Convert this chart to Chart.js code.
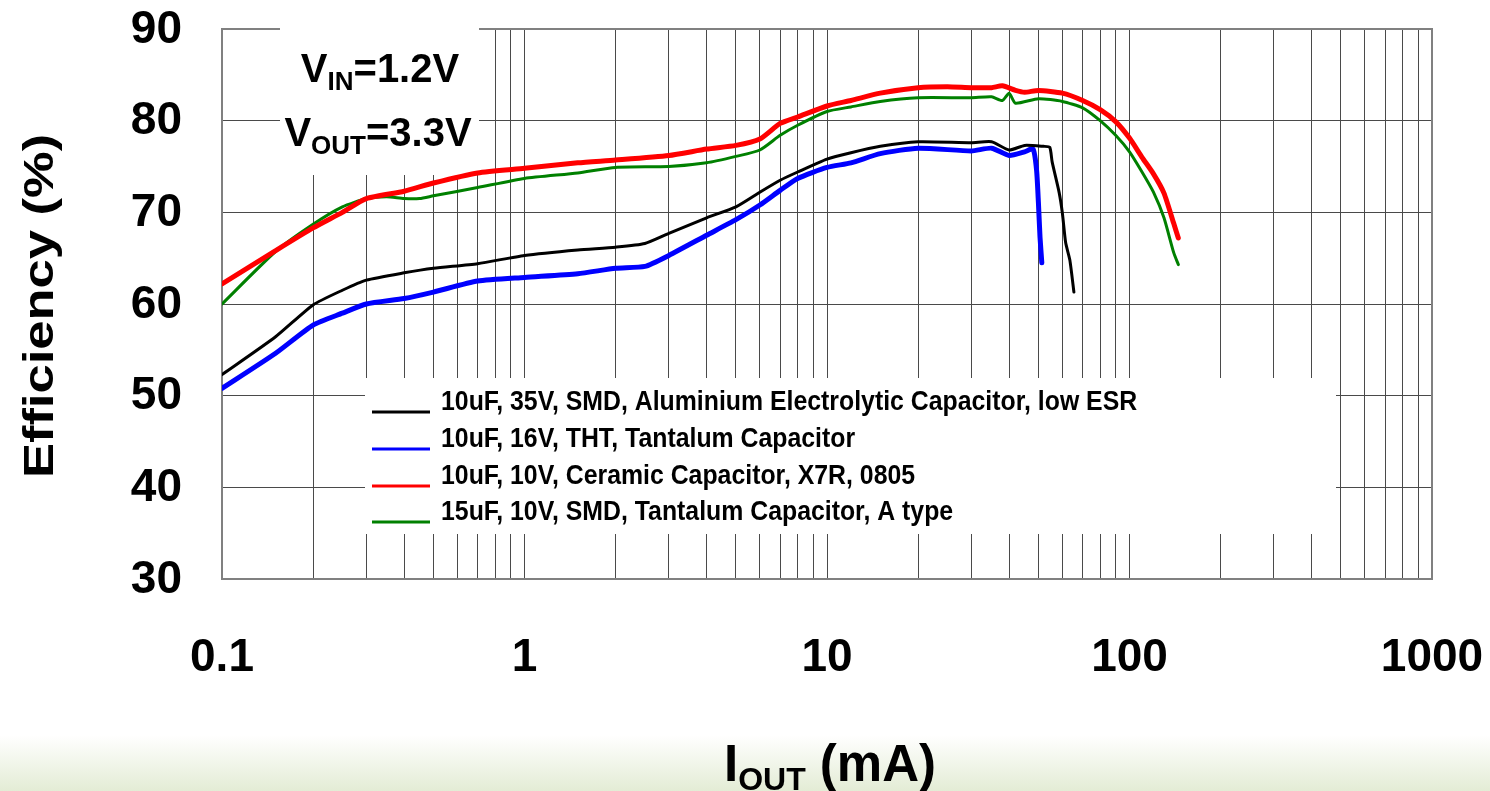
<!DOCTYPE html>
<html>
<head>
<meta charset="utf-8">
<script src="https://cdn.jsdelivr.net/npm/chart.js@4/dist/chart.umd.min.js"></script>
<style>
  html, body { margin: 0; padding: 0; }
  body {
    width: 1490px; height: 791px; overflow: hidden;
    background: linear-gradient(to bottom, #ffffff 0px, #ffffff 735px, #e3ecd5 791px);
  }
  #wrap { position: relative; width: 1490px; height: 791px; }
</style>
</head>
<body>
<div id="wrap"><canvas id="effChart" width="1490" height="791"></canvas></div>
<script>
// Оси
const xTickValues = [0.1, 1, 10, 100, 1000];
const xTickLabels = ['0.1', '1', '10', '100', '1000'];
const yTickValues = [30, 40, 50, 60, 70, 80, 90];
const yTickLabels = ['30', '40', '50', '60', '70', '80', '90'];

// Подписи серий
const seriesLabels = [
    '10uF, 35V, SMD, Aluminium Electrolytic Capacitor, low ESR',
    '10uF, 16V, THT, Tantalum Capacitor',
    '10uF, 10V, Ceramic Capacitor, X7R, 0805',
    '15uF, 10V, SMD, Tantalum Capacitor, A type'
];

// Данные (ток, мА / КПД, %)
const currentBlack = [0.1, 0.15, 0.2, 0.25, 0.3, 0.4, 0.5, 0.7, 1, 1.5, 2, 2.5, 3, 4, 5, 6, 7, 8, 10, 12, 15, 20, 30, 35, 40, 45, 52, 54.5, 55.5, 58.5, 60, 61.5, 63.5, 65.5];
const effBlack = [52.3, 56.4, 59.9, 61.5, 62.6, 63.4, 63.9, 64.4, 65.3, 65.9, 66.2, 66.6, 67.7, 69.4, 70.6, 72.2, 73.5, 74.4, 75.8, 76.5, 77.2, 77.7, 77.6, 77.7, 76.8, 77.3, 77.2, 77.1, 75.5, 72.2, 69.9, 66.7, 64.8, 61.3];

const currentBlue = [0.1, 0.15, 0.2, 0.25, 0.3, 0.4, 0.5, 0.7, 1, 1.5, 2, 2.5, 3, 4, 5, 6, 7, 8, 10, 12, 15, 20, 30, 35, 40, 45, 48, 49.3, 50, 50.6, 51.3];
const effBlue = [50.8, 54.6, 57.7, 59.0, 60.0, 60.6, 61.3, 62.5, 62.9, 63.3, 63.9, 64.1, 65.3, 67.5, 69.2, 70.8, 72.4, 73.7, 74.9, 75.4, 76.4, 77.0, 76.7, 77.0, 76.2, 76.6, 76.9, 74.6, 71.0, 67.3, 64.5];

const currentRed = [0.1, 0.15, 0.2, 0.25, 0.3, 0.4, 0.5, 0.7, 1, 1.5, 2, 3, 4, 5, 6, 7, 8, 10, 12, 15, 20, 25, 30, 35, 38, 42, 45, 50, 60, 70, 80, 90, 100, 110, 120, 130, 140, 145];
const effRed = [62.2, 65.8, 68.3, 70.0, 71.5, 72.3, 73.2, 74.3, 74.8, 75.4, 75.7, 76.2, 76.9, 77.3, 78.0, 79.7, 80.4, 81.6, 82.2, 83.0, 83.6, 83.7, 83.6, 83.6, 83.8, 83.3, 83.1, 83.3, 83.0, 82.2, 81.2, 79.9, 78.1, 76.0, 74.2, 72.1, 68.8, 67.2];

const currentGreen = [0.1, 0.15, 0.2, 0.25, 0.3, 0.35, 0.4, 0.45, 0.5, 0.7, 1, 1.5, 2, 3, 4, 5, 6, 7, 8, 10, 12, 15, 20, 30, 35, 38, 40, 42, 50, 60, 70, 80, 90, 100, 110, 120, 130, 140, 145];
const effGreen = [60.0, 65.7, 68.7, 70.6, 71.5, 71.7, 71.5, 71.5, 71.8, 72.7, 73.7, 74.3, 74.9, 75.0, 75.4, 76.1, 76.8, 78.4, 79.5, 81.0, 81.5, 82.1, 82.5, 82.5, 82.6, 82.2, 83.0, 81.9, 82.4, 82.1, 81.4, 80.0, 78.4, 76.6, 74.4, 72.2, 69.4, 65.6, 64.3];

const FONT = '"Liberation Sans", Arial, sans-serif';

function toPoints(xs, ys) {
    return xs.map((x, i) => ({ x: x, y: ys[i] }));
}

// линии сетки: 1..9 в каждой декаде
function logGrid() {
    const out = [];
    for (let e = -1; e < 3; e++) {
        for (let s = 1; s < 10; s++) out.push(+(s * Math.pow(10, e)).toPrecision(3));
    }
    out.push(1000);
    return out;
}

// текст с растяжкой по горизонтали
function drawScaled(ctx, str, x, y, font, align, sx) {
    ctx.save();
    ctx.font = font;
    ctx.textAlign = align;
    ctx.translate(x, y);
    ctx.scale(sx, 1);
    ctx.fillText(str, 0, 0);
    ctx.restore();
}

// строка вида V_IN=1.2V
function drawSubText(ctx, parts, cx, baseline, bigPx, smallPx, subDrop) {
    ctx.save();
    ctx.fillStyle = '#000';
    ctx.textBaseline = 'alphabetic';
    ctx.textAlign = 'left';
    let total = 0;
    parts.forEach(p => {
        ctx.font = 'bold ' + (p.sub ? smallPx : bigPx) + 'px ' + FONT;
        p.w = ctx.measureText(p.t).width;
        total += p.w;
    });
    let x = cx - total / 2;
    parts.forEach(p => {
        ctx.font = 'bold ' + (p.sub ? smallPx : bigPx) + 'px ' + FONT;
        ctx.fillText(p.t, x, baseline + (p.sub ? subDrop : 0));
        x += p.w;
    });
    ctx.restore();
}

const decorPlugin = {
    id: 'decor',
    beforeDatasetsDraw(chart) {
        const ctx = chart.ctx;
        const a = chart.chartArea;
        ctx.save();
        // рамка области графика
        ctx.strokeStyle = '#808080';
        ctx.lineWidth = 2;
        ctx.strokeRect(a.left, a.top, a.right - a.left, a.bottom - a.top);
        // белые подложки под надпись и легенду
        ctx.fillStyle = '#ffffff';
        ctx.fillRect(280, 26, 199, 149);
        ctx.fillRect(365, 378, 971, 156);
        ctx.restore();
    },
    afterDraw(chart) {
        const ctx = chart.ctx;
        const xs = chart.scales.x;
        const ys = chart.scales.y;
        ctx.save();
        ctx.fillStyle = '#000';

        // подписи осей
        ctx.textBaseline = 'middle';
        yTickValues.forEach((v, i) => {
            drawScaled(ctx, yTickLabels[i], 182, ys.getPixelForValue(v) + 1, 'bold 46px ' + FONT, 'right', 1);
        });
        xTickValues.forEach((v, i) => {
            drawScaled(ctx, xTickLabels[i], xs.getPixelForValue(v), 658, 'bold 46px ' + FONT, 'center', 1);
        });

        // заголовок оси Y
        ctx.save();
        ctx.translate(41, 306);
        ctx.rotate(-Math.PI / 2);
        ctx.scale(1.25, 1);
        ctx.font = 'bold 42px ' + FONT;
        ctx.textAlign = 'center';
        ctx.textBaseline = 'middle';
        ctx.fillText('Efficiency (%)', 0, 0);
        ctx.restore();

        // заголовок оси X
        drawSubText(ctx, [{ t: 'I' }, { t: 'OUT', sub: true }, { t: ' (mA)' }], 830, 781, 51, 32, 9);

        // условия измерения
        drawSubText(ctx, [{ t: 'V' }, { t: 'IN', sub: true }, { t: '=1.2V' }], 380, 82, 40, 26, 8);
        drawSubText(ctx, [{ t: 'V' }, { t: 'OUT', sub: true }, { t: '=3.3V' }], 378, 146, 40, 26, 8);

        // легенда
        const rowBase = [410, 447, 484, 520];
        chart.data.datasets.forEach((ds, i) => {
            ctx.strokeStyle = ds.borderColor;
            ctx.lineWidth = Math.min(ds.borderWidth, 3);
            ctx.beginPath();
            ctx.moveTo(372, rowBase[i] + 2);
            ctx.lineTo(430, rowBase[i] + 2);
            ctx.stroke();
            ctx.textBaseline = 'alphabetic';
            drawScaled(ctx, ds.label, 441, rowBase[i], 'bold 27px ' + FONT, 'left', 0.92);
        });
        ctx.restore();
    }
};

const datasets = [
    { label: seriesLabels[0], data: toPoints(currentBlack, effBlack), borderColor: '#000000', borderWidth: 3 },
    { label: seriesLabels[1], data: toPoints(currentBlue, effBlue), borderColor: '#0000ff', borderWidth: 5 },
    { label: seriesLabels[2], data: toPoints(currentRed, effRed), borderColor: '#ff0000', borderWidth: 5 },
    { label: seriesLabels[3], data: toPoints(currentGreen, effGreen), borderColor: '#008000', borderWidth: 3 }
].map(d => Object.assign(d, { pointRadius: 0, tension: 0.2, fill: false, borderJoinStyle: 'round', borderCapStyle: 'round' }));

const options = {
    responsive: false,
    animation: false,
    layout: { padding: { left: 222, right: 58, top: 29, bottom: 212 } },
    plugins: {
        legend: { display: false },
        tooltip: { enabled: false }
    },
    scales: {
        x: {
            type: 'logarithmic',
            min: 0.1,
            max: 1000,
            afterBuildTicks: axis => { axis.ticks = logGrid().map(v => ({ value: v })); },
            ticks: { display: false, autoSkip: false },
            grid: { color: '#4a4a4a', lineWidth: 1, drawTicks: false },
            border: { display: false }
        },
        y: {
            min: 30,
            max: 90,
            afterBuildTicks: axis => { axis.ticks = yTickValues.map(v => ({ value: v })); },
            ticks: { display: false },
            grid: { color: '#4a4a4a', lineWidth: 1, drawTicks: false },
            border: { display: false }
        }
    }
};

window.onload = function() {
    const ctx = document.getElementById('effChart').getContext('2d');
    new Chart(ctx, {
        type: 'line',
        data: { datasets: datasets },
        options: options,
        plugins: [decorPlugin]
    });
};
</script>
</body>
</html>
